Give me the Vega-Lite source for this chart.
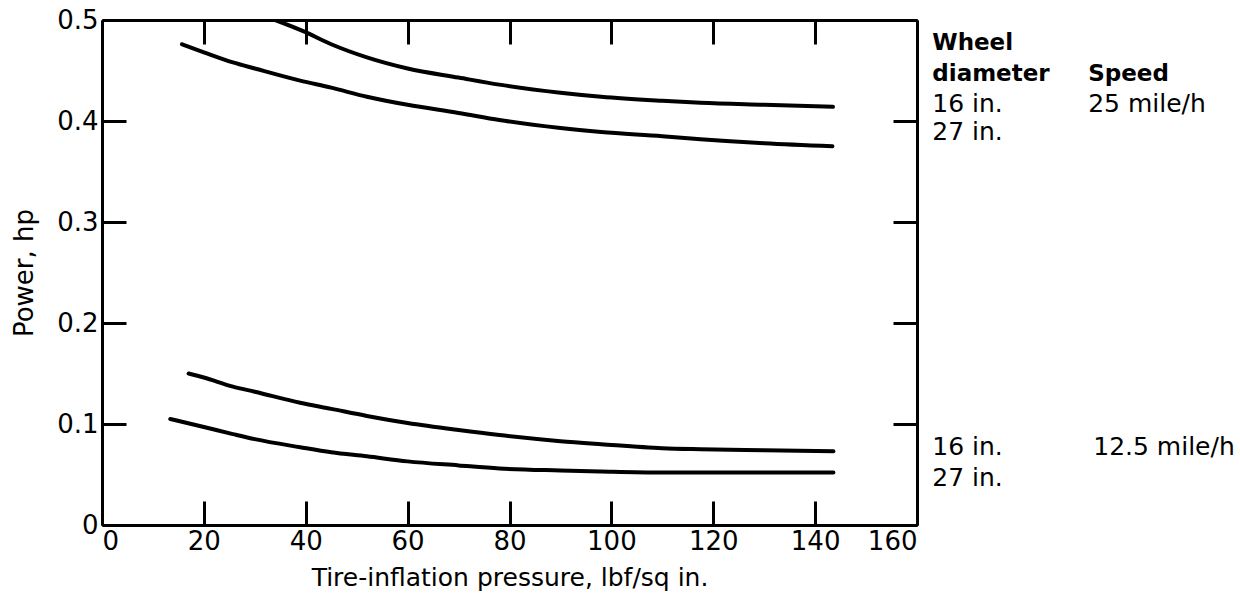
{
  "$schema": "https://vega.github.io/schema/vega-lite/v6.json",
  "autosize": "none",
  "width": 815,
  "height": 505,
  "padding": {"left": 102, "top": 20, "right": 323, "bottom": 74},
  "background": "white",
  "config": {
    "view": {"stroke": null},
    "font": "DejaVu Sans",
    "axis": {"grid": false, "domainColor": "black", "domainWidth": 3, "tickColor": "black", "tickWidth": 3, "labelColor": "black", "titleColor": "black", "labelFont": "DejaVu Sans", "titleFont": "DejaVu Sans"}
  },
  "datasets": {
    "curves": [
      {"series": "16 in. 25 mile/h", "pressure": 34, "power": 0.5},
      {"series": "16 in. 25 mile/h", "pressure": 39.5, "power": 0.489},
      {"series": "16 in. 25 mile/h", "pressure": 45, "power": 0.476},
      {"series": "16 in. 25 mile/h", "pressure": 52, "power": 0.463},
      {"series": "16 in. 25 mile/h", "pressure": 60, "power": 0.452},
      {"series": "16 in. 25 mile/h", "pressure": 70, "power": 0.443},
      {"series": "16 in. 25 mile/h", "pressure": 78, "power": 0.436},
      {"series": "16 in. 25 mile/h", "pressure": 90, "power": 0.428},
      {"series": "16 in. 25 mile/h", "pressure": 98, "power": 0.424},
      {"series": "16 in. 25 mile/h", "pressure": 110, "power": 0.42},
      {"series": "16 in. 25 mile/h", "pressure": 117.5, "power": 0.418},
      {"series": "16 in. 25 mile/h", "pressure": 130, "power": 0.416},
      {"series": "16 in. 25 mile/h", "pressure": 143.5, "power": 0.414},
      {"series": "27 in. 25 mile/h", "pressure": 15.7, "power": 0.476},
      {"series": "27 in. 25 mile/h", "pressure": 20, "power": 0.468},
      {"series": "27 in. 25 mile/h", "pressure": 25.7, "power": 0.458},
      {"series": "27 in. 25 mile/h", "pressure": 30, "power": 0.452},
      {"series": "27 in. 25 mile/h", "pressure": 38.9, "power": 0.44},
      {"series": "27 in. 25 mile/h", "pressure": 45, "power": 0.433},
      {"series": "27 in. 25 mile/h", "pressure": 52, "power": 0.424},
      {"series": "27 in. 25 mile/h", "pressure": 60, "power": 0.416},
      {"series": "27 in. 25 mile/h", "pressure": 70, "power": 0.408},
      {"series": "27 in. 25 mile/h", "pressure": 78, "power": 0.401},
      {"series": "27 in. 25 mile/h", "pressure": 90, "power": 0.393},
      {"series": "27 in. 25 mile/h", "pressure": 98, "power": 0.389},
      {"series": "27 in. 25 mile/h", "pressure": 110, "power": 0.385},
      {"series": "27 in. 25 mile/h", "pressure": 117.5, "power": 0.382},
      {"series": "27 in. 25 mile/h", "pressure": 130, "power": 0.378},
      {"series": "27 in. 25 mile/h", "pressure": 143.4, "power": 0.375},
      {"series": "16 in. 12.5 mile/h", "pressure": 17, "power": 0.15},
      {"series": "16 in. 12.5 mile/h", "pressure": 20, "power": 0.146},
      {"series": "16 in. 12.5 mile/h", "pressure": 25.7, "power": 0.137},
      {"series": "16 in. 12.5 mile/h", "pressure": 30, "power": 0.132},
      {"series": "16 in. 12.5 mile/h", "pressure": 38.9, "power": 0.121},
      {"series": "16 in. 12.5 mile/h", "pressure": 45, "power": 0.115},
      {"series": "16 in. 12.5 mile/h", "pressure": 52, "power": 0.108},
      {"series": "16 in. 12.5 mile/h", "pressure": 60, "power": 0.101},
      {"series": "16 in. 12.5 mile/h", "pressure": 70, "power": 0.094},
      {"series": "16 in. 12.5 mile/h", "pressure": 78, "power": 0.089},
      {"series": "16 in. 12.5 mile/h", "pressure": 90, "power": 0.083},
      {"series": "16 in. 12.5 mile/h", "pressure": 98, "power": 0.08},
      {"series": "16 in. 12.5 mile/h", "pressure": 110, "power": 0.076},
      {"series": "16 in. 12.5 mile/h", "pressure": 117.5, "power": 0.075},
      {"series": "16 in. 12.5 mile/h", "pressure": 130, "power": 0.074},
      {"series": "16 in. 12.5 mile/h", "pressure": 143.6, "power": 0.073},
      {"series": "27 in. 12.5 mile/h", "pressure": 13.4, "power": 0.105},
      {"series": "27 in. 12.5 mile/h", "pressure": 20, "power": 0.097},
      {"series": "27 in. 12.5 mile/h", "pressure": 25.7, "power": 0.09},
      {"series": "27 in. 12.5 mile/h", "pressure": 30, "power": 0.085},
      {"series": "27 in. 12.5 mile/h", "pressure": 38.9, "power": 0.077},
      {"series": "27 in. 12.5 mile/h", "pressure": 45, "power": 0.072},
      {"series": "27 in. 12.5 mile/h", "pressure": 52, "power": 0.068},
      {"series": "27 in. 12.5 mile/h", "pressure": 60, "power": 0.063},
      {"series": "27 in. 12.5 mile/h", "pressure": 70, "power": 0.059},
      {"series": "27 in. 12.5 mile/h", "pressure": 78, "power": 0.056},
      {"series": "27 in. 12.5 mile/h", "pressure": 90, "power": 0.054},
      {"series": "27 in. 12.5 mile/h", "pressure": 98, "power": 0.053},
      {"series": "27 in. 12.5 mile/h", "pressure": 110, "power": 0.052},
      {"series": "27 in. 12.5 mile/h", "pressure": 117.5, "power": 0.052},
      {"series": "27 in. 12.5 mile/h", "pressure": 130, "power": 0.052},
      {"series": "27 in. 12.5 mile/h", "pressure": 143.6, "power": 0.052}
    ],
    "notes": [
      {"label": "Wheel", "pressure": 163, "power": 0.477, "bold": true},
      {"label": "diameter", "pressure": 163, "power": 0.447, "bold": true},
      {"label": "16 in.", "pressure": 163, "power": 0.417, "bold": false},
      {"label": "27 in.", "pressure": 163, "power": 0.389, "bold": false},
      {"label": "Speed", "pressure": 193.6, "power": 0.447, "bold": true},
      {"label": "25 mile/h", "pressure": 193.6, "power": 0.417, "bold": false},
      {"label": "16 in.", "pressure": 163, "power": 0.077, "bold": false},
      {"label": "27 in.", "pressure": 163, "power": 0.047, "bold": false},
      {"label": "12.5 mile/h", "pressure": 194.6, "power": 0.077, "bold": false}
    ]
  },
  "resolve": {"axis": {"x": "independent", "y": "independent"}},
  "layer": [
    {
      "data": {"name": "curves"},
      "mark": {"type": "line", "color": "black", "strokeWidth": 4, "strokeCap": "round", "interpolate": "monotone", "clip": true},
      "encoding": {
        "x": {"field": "pressure", "type": "quantitative", "scale": {"domain": [0, 160], "nice": false},
          "axis": {"orient": "bottom", "values": [0, 20, 40, 60, 80, 100, 120, 140, 160], "tickSize": -24, "labelPadding": 27, "labelFontSize": 26, "labelExpr": "format(datum.value, 'd')", "title": "Tire-inflation pressure, lbf/sq in.", "titleFontSize": 25, "titleFontWeight": "normal", "titlePadding": 11}},
        "y": {"field": "power", "type": "quantitative", "scale": {"domain": [0, 0.5], "nice": false, "zero": false},
          "axis": {"orient": "left", "values": [0, 0.1, 0.2, 0.3, 0.4, 0.5], "tickSize": -24, "labelPadding": 28, "labelFontSize": 26, "labelExpr": "datum.value == 0 ? '0' : format(datum.value, '.1f')", "title": "Power, hp", "titleFontSize": 26, "titleFontWeight": "normal", "titlePadding": 19}},
        "detail": {"field": "series"}
      }
    },
    {
      "data": {"name": "notes"},
      "transform": [{"filter": "!datum.bold"}],
      "mark": {"type": "text", "align": "left", "baseline": "middle", "fontSize": 25, "color": "black", "clip": false},
      "encoding": {
        "x": {"field": "pressure", "type": "quantitative",
          "axis": {"orient": "top", "values": [0, 20, 40, 60, 80, 100, 120, 140, 160], "tickSize": -24, "labels": false, "title": null}},
        "y": {"field": "power", "type": "quantitative",
          "axis": {"orient": "right", "values": [0, 0.1, 0.2, 0.3, 0.4, 0.5], "tickSize": -24, "labels": false, "title": null}},
        "text": {"field": "label"}
      }
    },
    {
      "data": {"name": "notes"},
      "transform": [{"filter": "datum.bold"}],
      "mark": {"type": "text", "align": "left", "baseline": "middle", "fontSize": 23, "fontWeight": "bold", "color": "black", "clip": false},
      "encoding": {
        "x": {"field": "pressure", "type": "quantitative", "axis": null},
        "y": {"field": "power", "type": "quantitative", "axis": null},
        "text": {"field": "label"}
      }
    }
  ]
}
